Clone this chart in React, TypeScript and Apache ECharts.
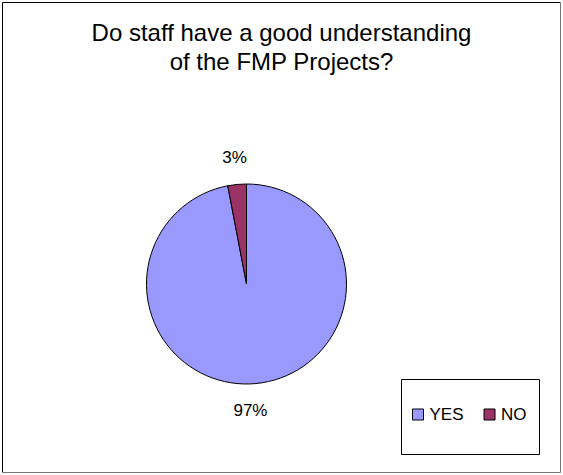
import React, { useEffect, useRef } from "react";
import * as echarts from "echarts";

const titleLines = ["Do staff have a good understanding", "of the FMP Projects?"];
const categories = ["YES", "NO"];
const percentValues = [97, 3];
const sliceColors = ["#9999FF", "#993366"];

export default function App() {
  const ref = useRef<HTMLDivElement>(null);

  useEffect(() => {
    if (!ref.current) return;
    const chart = echarts.init(ref.current, null, { renderer: "svg" });
    const font = "'Liberation Sans', Arial, sans-serif";
    chart.setOption({
      animation: false,
      backgroundColor: "#ffffff",
      title: {
        text: titleLines.join("\n"),
        left: "center",
        top: 13,
        textStyle: {
          fontFamily: font,
          fontSize: 24,
          fontWeight: "normal",
          color: "#000",
          lineHeight: 29,
          align: "center",
        },
      },
      graphic: [
        {
          type: "polyline",
          shape: { points: [[2.5, 472.5], [2.5, 2.5], [560.5, 2.5]] },
          style: { fill: "none", stroke: "#000", lineWidth: 1 },
          silent: true,
        },
        {
          type: "polyline",
          shape: { points: [[560.5, 2.5], [560.5, 472.5], [2.5, 472.5]] },
          style: { fill: "none", stroke: "#777", lineWidth: 1 },
          silent: true,
        },
        {
          type: "rect",
          shape: { x: 401.5, y: 379.5, width: 138, height: 75 },
          style: { fill: "none", stroke: "#000", lineWidth: 1 },
          silent: true,
        },
      ],
      legend: {
        data: categories,
        orient: "horizontal",
        left: 412,
        top: 406,
        padding: 0,
        itemGap: 20,
        itemWidth: 11,
        itemHeight: 11,
        icon: "rect",
        itemStyle: { borderColor: "#000", borderWidth: 1 },
        textStyle: { fontFamily: font, fontSize: 17, color: "#000", padding: [0, 0, 0, 1] },
      },
      series: [
        {
          type: "pie",
          center: [246.5, 284],
          radius: 100,
          startAngle: 90,
          clockwise: true,
          data: categories.map((name, i) => ({
            name,
            value: percentValues[i],
            itemStyle: { color: sliceColors[i] },
          })),
          itemStyle: { borderColor: "#000", borderWidth: 1 },
          label: {
            show: true,
            position: "outside",
            formatter: "{c}%",
            fontFamily: font,
            fontSize: 17,
            color: "#000",
            distanceToLabelLine: 0,
          },
          labelLine: { show: false, length: 27, length2: 0 },
          labelLayout: (params: any) =>
            params.dataIndex === 0 ? { align: "center", dx: -8 } : { align: "center" },
          emphasis: { disabled: true },
        },
      ],
    });
    return () => chart.dispose();
  }, []);

  return (
    <div
      ref={ref}
      style={{ position: "fixed", left: 0, top: 0, width: 563, height: 475 }}
    />
  );
}
